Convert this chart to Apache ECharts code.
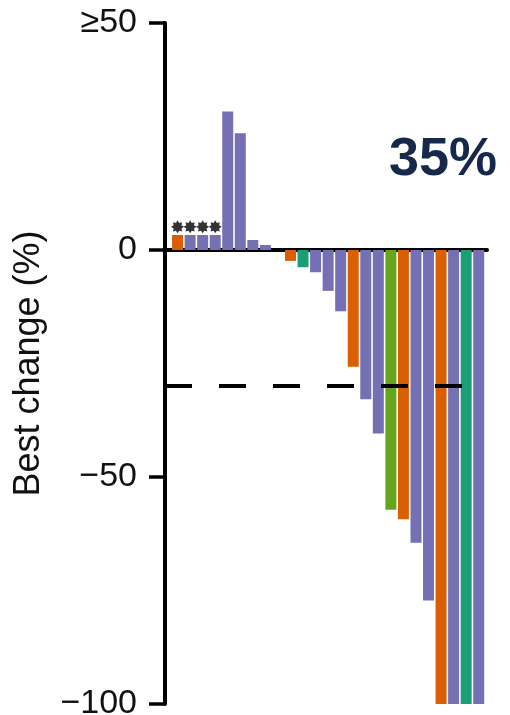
<!DOCTYPE html>
<html>
<head>
<meta charset="utf-8">
<script src="https://cdn.jsdelivr.net/npm/echarts@6/dist/echarts.min.js"></script>
<style>
html, body { margin: 0; padding: 0; background: #fff; }
#main { width: 510px; height: 715px; }
</style>
</head>
<body>
<div id="main"></div>
<script>
// best change per patient, sorted as in the waterfall (values capped at -100 / >=50)
var bestChange = [3.3, 3.3, 3.3, 3.3, 30.5, 25.7, 2.2, 1.1, 0, -2.4, -3.8, -4.9, -9.0, -13.5,
    -25.7, -32.9, -40.4, -57.2, -59.3, -64.5, -77.2, -100, -100, -100, -100];
// colour group of each bar
var cohort = ['O', 'P', 'P', 'P', 'P', 'P', 'P', 'P', 'P', 'O', 'T', 'P', 'P', 'P',
    'O', 'P', 'P', 'G', 'O', 'P', 'P', 'O', 'P', 'T', 'P'];
var cohortColor = { O: '#D95F02', P: '#7570B3', T: '#1B9E77', G: '#66A61E' };
// bars flagged with an asterisk
var starred = [0, 1, 2, 3];
var starLevel = 5.1;
var yTickLabels = { '-100': '\u2212100', '-50': '\u221250', '0': '0', '50': '\u226550' };
var threshold = -30;
var responseRate = '35%';

// 8 point star used as the asterisk marker
var pts = [];
for (var k = 0; k < 16; k++) {
    var a = k * Math.PI / 8 - Math.PI / 2;
    var r = k % 2 === 0 ? 10 : 6.5;
    pts.push((k === 0 ? 'M' : 'L') + (10 + r * Math.cos(a)).toFixed(2) + ' ' + (10 + r * Math.sin(a)).toFixed(2));
}
var starPath = 'path://' + pts.join(' ') + ' Z';

var barData = bestChange.map(function (v, i) {
    return { value: [i, v], itemStyle: { color: cohortColor[cohort[i]] } };
});
var starData = starred.map(function (i) { return [i, starLevel]; });

var chart = echarts.init(document.getElementById('main'));
chart.setOption({
    animation: false,
    title: {
        text: responseRate,
        left: 384,
        top: 128,
        textStyle: { fontFamily: 'Liberation Sans', fontWeight: 'bold', fontSize: 54, color: '#17294a' }
    },
    grid: { left: 165, right: 23, top: 23, bottom: 11, outerBoundsMode: 'none' },
    xAxis: {
        type: 'value',
        min: -1,
        max: 24.66,
        axisLine: { onZero: true, lineStyle: { color: '#000', width: 4 } },
        axisTick: { show: false },
        axisLabel: { show: false },
        splitLine: { show: false }
    },
    yAxis: {
        type: 'value',
        min: -100,
        max: 50,
        interval: 50,
        name: 'Best change (%)',
        nameLocation: 'middle',
        nameGap: 118,
        nameTextStyle: { fontFamily: 'Liberation Sans', fontSize: 36, color: '#111' },
        axisLine: { show: true, onZero: false, lineStyle: { color: '#000', width: 4 } },
        axisTick: { show: true, length: 16, lineStyle: { color: '#000', width: 3.5 } },
        axisLabel: {
            margin: 28,
            fontFamily: 'Liberation Sans',
            fontSize: 34,
            color: '#111',
            formatter: function (v) { return yTickLabels[String(v)]; }
        },
        splitLine: { show: false }
    },
    series: [{
        type: 'bar',
        barWidth: 11,
        data: barData,
        markLine: {
            silent: true,
            symbol: 'none',
            label: { show: false },
            lineStyle: { color: '#000', width: 4, type: [27, 27] },
            data: [{ yAxis: threshold }]
        }
    }, {
        type: 'scatter',
        symbol: starPath,
        symbolSize: 13,
        itemStyle: { color: '#000' },
        data: starData,
        z: 3
    }]
});
</script>
</body>
</html>
